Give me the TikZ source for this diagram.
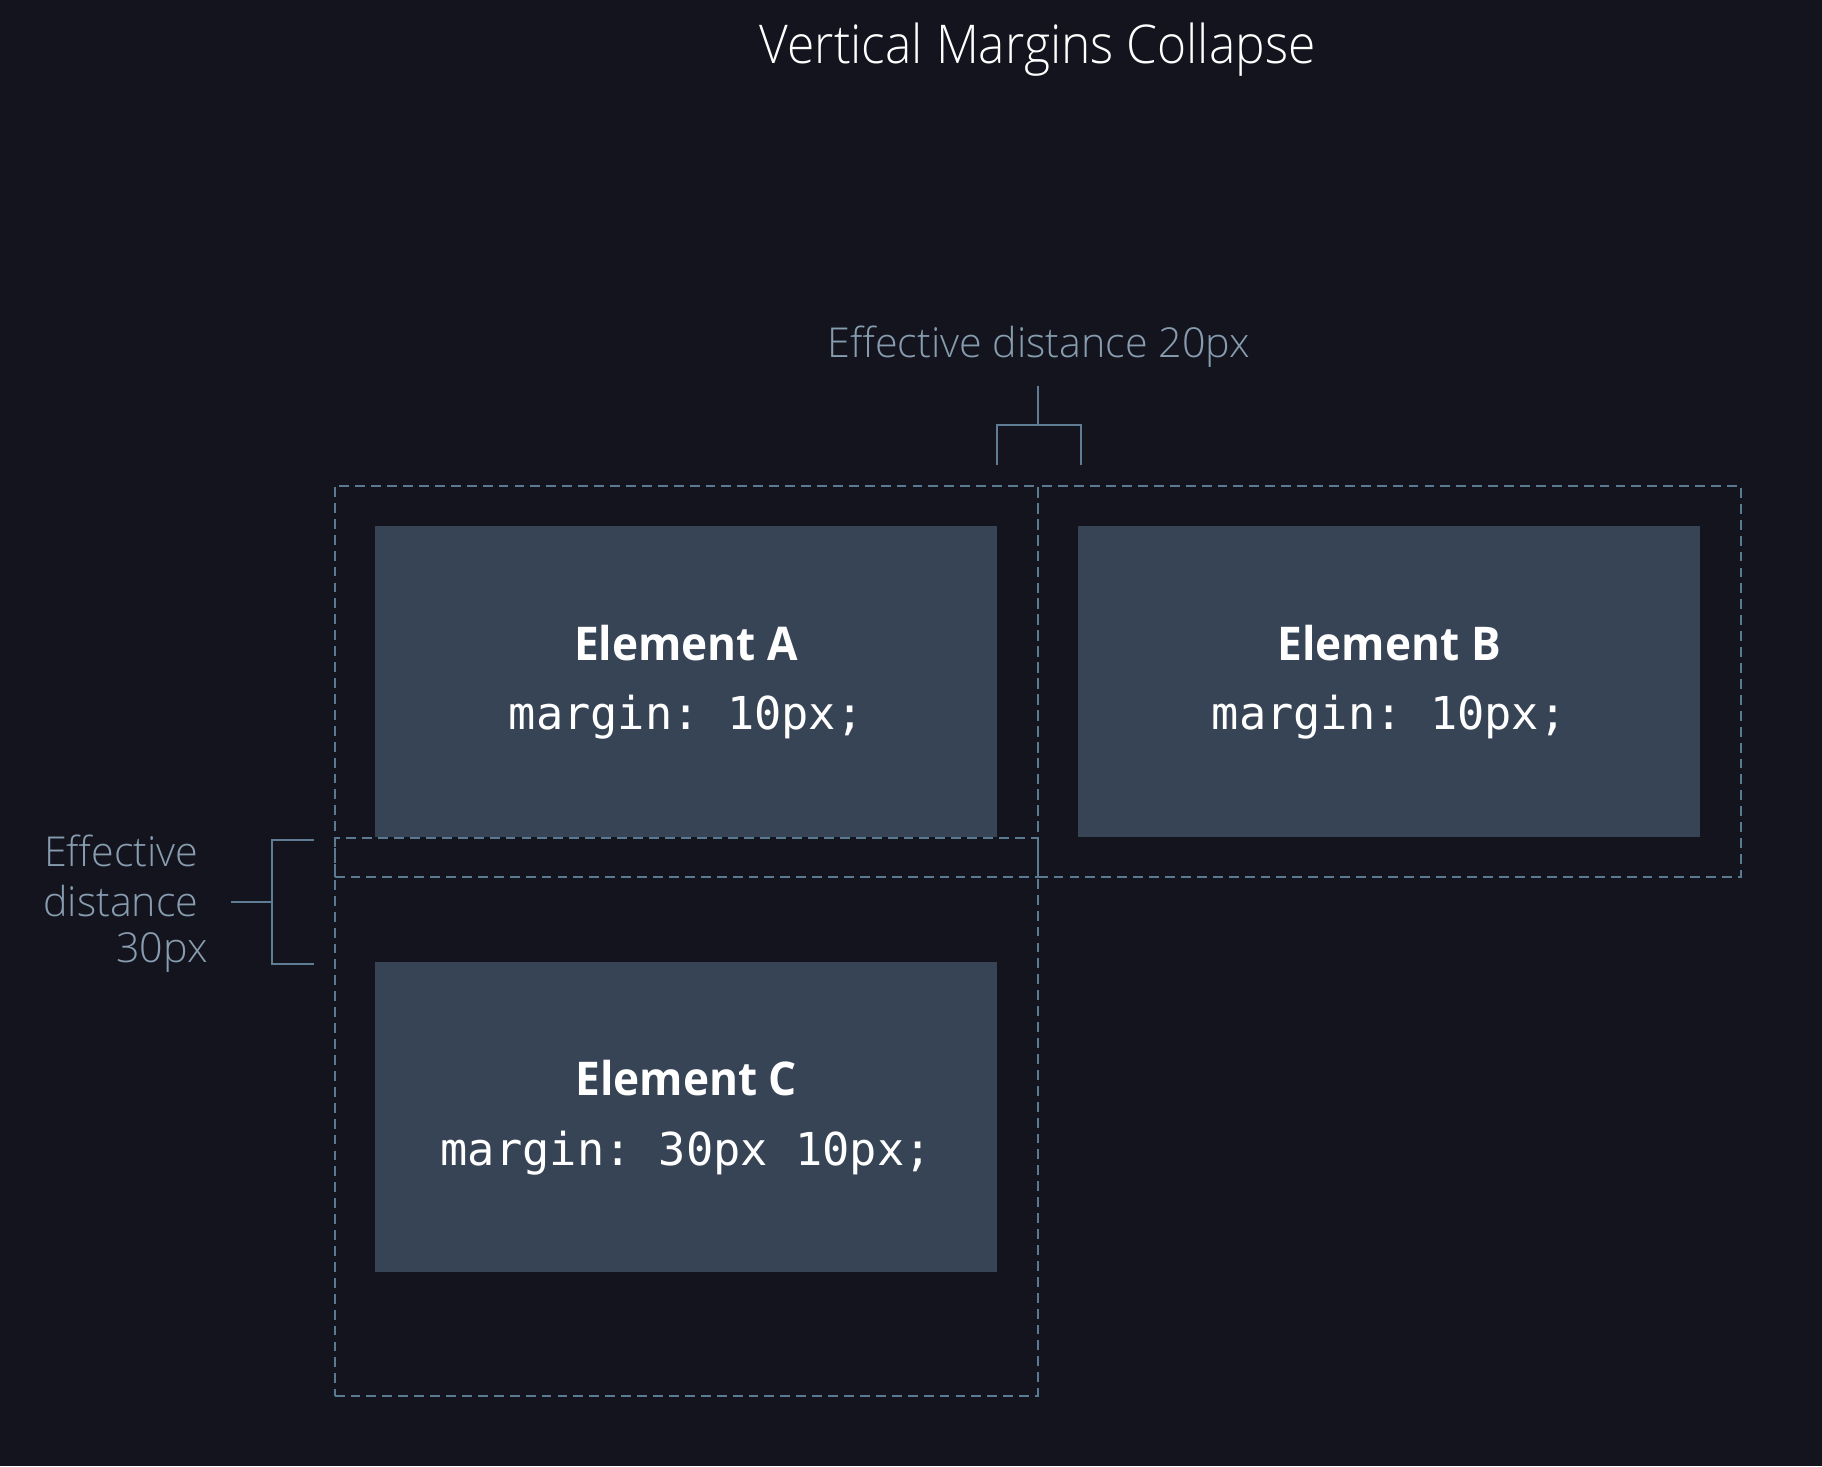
\documentclass[tikz,border=0pt]{standalone}
\usepackage{fontspec}
\setmainfont{Open Sans}
\newfontfamily\lightfont{Open Sans Light}
\newfontfamily\titlefont{Open Sans Light}[FakeStretch=0.93]
\newfontfamily\namefont{Open Sans Bold}[FakeStretch=0.95]
\setmonofont{DejaVu Sans Mono}
\definecolor{bg}{HTML}{14141E}
\definecolor{boxfill}{HTML}{374456}
\definecolor{dashcol}{HTML}{5A7A92}
\definecolor{labelcol}{HTML}{879DAF}
\definecolor{brackcol}{HTML}{5E7C93}
\begin{document}
\begin{tikzpicture}[x=1pt,y=-1pt,
  elbox/.style={fill=boxfill,draw=none,inner sep=0pt,minimum width=535pt,minimum height=267pt},
  margbox/.style={draw=dashcol,line width=1.6pt,dash pattern=on 8.5pt off 5.2pt,inner sep=0pt,minimum width=605pt},
  elname/.style={anchor=base,text=white,font=\fontsize{40}{48}\selectfont\namefont},
  elcode/.style={anchor=base,text=white,font=\fontsize{39}{46}\selectfont\ttfamily},
  note/.style={text=labelcol,font=\fontsize{35.5}{43}\selectfont\lightfont,inner sep=0pt},
  brack/.style={draw=brackcol,line width=1.7pt}]
\fill[bg] (0,0) rectangle (1568,1262);
\useasboundingbox (0,0) rectangle (1568,1262);

\node[text=white,font=\fontsize{46}{56}\selectfont\titlefont,inner sep=0pt,anchor=base] (title) at (893,55) {Vertical Margins Collapse};

% elements
\node[elbox] (A) at (590.5,586.5) {};
\node[elbox] (B) at (1195.5,586.5) {};
\node[elbox] (C) at (590.5,961.5) {};

\node[elname] (An) at ([yshift=18.5pt]A.center) {Element A};
\node[elcode] (Ac) at ([yshift=-41.5pt]A.center) {margin: 10px;};
\node[elname] (Bn) at ([yshift=18.5pt]B.center) {Element B};
\node[elcode] (Bc) at ([yshift=-41.5pt]B.center) {margin: 10px;};
\node[elname] (Cn) at ([yshift=18.5pt]C.center) {Element C};
\node[elcode] (Cc) at ([yshift=-41.5pt]C.center) {margin: 30px 10px;};

% margin boxes
\node[margbox,minimum height=337pt] (mA) at (A.center) {};
\node[margbox,minimum height=337pt] (mB) at (B.center) {};
\node[margbox,minimum height=480pt] (mC) at (590.5,961) {};

% top annotation
\node[note] (top) at (894,298) {Effective distance 20px};
\coordinate (ts) at (893,332);
\coordinate (tm) at (893,366);
\coordinate (tl) at (858,366);
\coordinate (tr) at (930,366);
\coordinate (tlb) at (858,400);
\coordinate (trb) at (930,400);
\draw[brack] (ts) -- (tm);
\draw[brack] (tlb) -- (tl) -- (tr) -- (trb);

% left annotation
\node[note,anchor=east] (l1) at (171,732) {Effective};
\node[note,anchor=east] (l2) at (171,775) {distance};
\node[note,anchor=east] (l3) at (179,820) {30px};
\coordinate (ls) at (199,776);
\coordinate (lm) at (234,776);
\coordinate (lt) at (234,723);
\coordinate (lb) at (234,830);
\coordinate (ltr) at (270,723);
\coordinate (lbr) at (270,830);
\draw[brack] (ls) -- (lm);
\draw[brack] (ltr) -- (lt) -- (lb) -- (lbr);
\end{tikzpicture}
\end{document}
